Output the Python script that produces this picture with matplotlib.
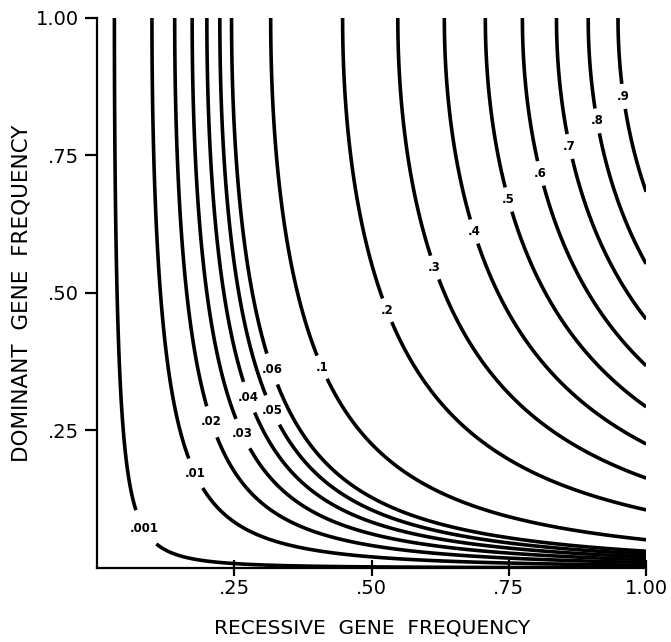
"""Iso-frequency contours of the double phenotype vs. gene frequencies."""

import matplotlib
matplotlib.use("Agg")
import matplotlib.pyplot as plt
import numpy as np

# contour levels and how each one is printed on the chart
LEVELS = [0.001, 0.01, 0.02, 0.03, 0.04, 0.05, 0.06, 0.1, 0.2, 0.3, 0.4, 0.5, 0.6, 0.7, 0.8, 0.9]
LEVEL_TEXT = [".001", ".01", ".02", ".03", ".04", ".05", ".06", ".1", ".2", ".3", ".4", ".5", ".6", ".7", ".8", ".9"]
# approximate label spots (recessive, dominant)
LABEL_X = [0.091, 0.186, 0.213, 0.248, 0.262, 0.315, 0.320, 0.410, 0.517, 0.612, 0.685, 0.747, 0.803, 0.856, 0.913, 0.965]
LABEL_Y = [0.075, 0.175, 0.267, 0.236, 0.305, 0.285, 0.362, 0.365, 0.464, 0.545, 0.611, 0.669, 0.716, 0.765, 0.813, 0.858]

TICKS = [0.25, 0.50, 0.75, 1.00]
TICK_TEXT = [".25", ".50", ".75", "1.00"]

plt.rcParams.update({"font.family": "DejaVu Sans"})

# Hardy-Weinberg: recessive phenotype q^2, dominant phenotype 1-(1-p)^2
q = np.linspace(0.0, 1.0, 900)
p = np.concatenate([np.linspace(0.0, 0.05, 600), np.linspace(0.05, 1.0, 900)[1:]])
Q, P = np.meshgrid(q, p)
Z = Q**2 * (1.0 - (1.0 - P) ** 2)

fig = plt.figure(figsize=(6.71, 6.42), dpi=100)
ax = fig.add_axes([0.1446, 0.1153, 0.8184, 0.857])

cs = ax.contour(Q, P, Z, levels=LEVELS, colors="black", linewidths=2.6)
fmt = dict(zip(cs.levels, LEVEL_TEXT))
labels = ax.clabel(
    cs,
    fmt=fmt,
    manual=list(zip(LABEL_X, LABEL_Y)),
    inline=True,
    inline_spacing=7,
    fontsize=8.5,
)
for t in labels:
    t.set_fontweight("bold")
    t.set_rotation(0)

ax.set_xlim(0.0, 1.0)
ax.set_ylim(0.0, 1.0)
ax.spines["top"].set_visible(False)
ax.spines["right"].set_visible(False)
for side in ("left", "bottom"):
    ax.spines[side].set_linewidth(1.6)

ax.set_xticks(TICKS, TICK_TEXT)
ax.set_yticks(TICKS, TICK_TEXT)
ax.tick_params(axis="x", direction="inout", length=12, width=1.6, labelsize=14, pad=2)
ax.tick_params(axis="y", direction="out", length=9, width=1.6, labelsize=14, pad=4)

ax.set_xlabel("RECESSIVE  GENE  FREQUENCY", fontsize=14.5, labelpad=15)
ax.set_ylabel("DOMINANT  GENE  FREQUENCY", fontsize=15.5, labelpad=3)

fig.savefig("out.png", dpi=100)
